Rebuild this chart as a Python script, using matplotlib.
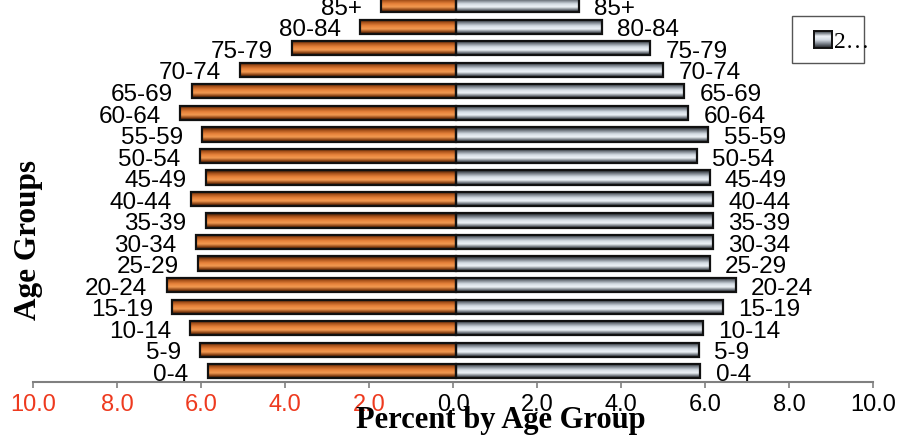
'''
Population pyramid: percent of population by age group
'''

import numpy as np
import matplotlib
matplotlib.use('Agg')
import matplotlib.pyplot as plt
from matplotlib.colors import LinearSegmentedColormap
from matplotlib.patches import Rectangle

age_groups = ['0-4', '5-9', '10-14', '15-19', '20-24', '25-29', '30-34', '35-39',
              '40-44', '45-49', '50-54', '55-59', '60-64', '65-69', '70-74',
              '75-79', '80-84', '85+']
left_pct = [5.90, 6.08, 6.32, 6.74, 6.88, 6.14, 6.19, 5.95, 6.30, 5.95, 6.09,
            6.03, 6.55, 6.27, 5.12, 3.89, 2.28, 1.78]
right_pct = [5.89, 5.86, 5.95, 6.42, 6.73, 6.11, 6.19, 6.19, 6.19, 6.11, 5.81,
             6.08, 5.60, 5.50, 5.00, 4.69, 3.54, 3.00]
tick_values = [-10, -8, -6, -4, -2, 0, 2, 4, 6, 8, 10]
tick_labels = ['10.0', '8.0', '6.0', '4.0', '2.0', '0.0', '2.0', '4.0', '6.0', '8.0', '10.0']
legend_label = '2\u2026'

# shading across the bar height, top to bottom
orange_cmap = LinearSegmentedColormap.from_list('orange', [
    (0.0, '#2a1204'), (0.14, '#8a4214'), (0.34, '#f29a52'), (0.55, '#e7823a'),
    (0.78, '#a9521a'), (1.0, '#2a1204')])
grey_cmap = LinearSegmentedColormap.from_list('grey', [
    (0.0, '#1c1f22'), (0.14, '#6c737b'), (0.34, '#eef3f8'), (0.55, '#d3dbe3'),
    (0.78, '#747b84'), (1.0, '#1c1f22')])
shade = np.linspace(0, 1, 64).reshape(-1, 1)

fig = plt.figure(figsize=(9, 4.39), dpi=100)
ax = fig.add_axes([33/900, 56/439, 840/900, 387.5/439])

y = np.arange(len(age_groups))
bar_h = 0.66
gap = 0.06

left_bars = ax.barh(y, [-v for v in left_pct], left=gap, height=bar_h,
                    facecolor='none', edgecolor='#111111', linewidth=1.6, zorder=3)
right_bars = ax.barh(y, [v - gap for v in right_pct], left=gap, height=bar_h,
                     facecolor='none', edgecolor='#111111', linewidth=1.6, zorder=3)

for bars, cmap in ((left_bars, orange_cmap), (right_bars, grey_cmap)):
    for p in bars.patches:
        x0, x1 = sorted([p.get_x(), p.get_x() + p.get_width()])
        y0 = p.get_y()
        ax.imshow(shade, cmap=cmap, extent=[x0, x1, y0 + p.get_height(), y0],
                  aspect='auto', interpolation='bilinear', origin='upper', zorder=2)

# age labels at the end of each bar
for i, g in enumerate(age_groups):
    ax.annotate(g, xy=(-left_pct[i], y[i]), xytext=(-12, -6.2),
                textcoords='offset points', ha='right', va='baseline',
                fontsize=17.5, family='Liberation Sans', color='black')
    ax.annotate(g, xy=(right_pct[i], y[i]), xytext=(11, -6.2),
                textcoords='offset points', ha='left', va='baseline',
                fontsize=17.5, family='Liberation Sans', color='black')

ax.set_xlim(-10, 10)
ax.set_ylim(-0.5, len(age_groups) - 0.5)
ax.set_xticks(tick_values)
ax.set_xticklabels(tick_labels, fontsize=17, family='Liberation Sans')
for val, lab in zip(tick_values, ax.get_xticklabels()):
    lab.set_color('#ee3a1f' if val < 0 else 'black')
ax.tick_params(axis='x', direction='out', length=4, width=1.2, color='#808080', pad=4)
ax.set_yticks([])
for side in ['top', 'left', 'right']:
    ax.spines[side].set_visible(False)
ax.spines['bottom'].set_color('#808080')
ax.spines['bottom'].set_linewidth(1.5)
ax.patch.set_alpha(0)

fig.text(501/900, 1 - 428/439, 'Percent by Age Group', ha='center', va='baseline',
         fontsize=22, fontweight='bold', family='Liberation Serif')
fig.text(29/900, 1 - 240/439, 'Age Groups', ha='center', va='center', rotation=90,
         fontsize=22.5, fontweight='bold', family='Liberation Serif')

# legend box with a single entry
fig.patches.append(Rectangle((792/900, 1 - 63.5/439), 71.5/900, 46.5/439,
                             transform=fig.transFigure, facecolor='white',
                             edgecolor='#555555', linewidth=1.0, zorder=1))
kax = fig.add_axes([814/900, 1 - 49/439, 17.5/900, 17.5/439])
kax.set_zorder(5)
kax.imshow(shade, cmap=grey_cmap, aspect='auto', interpolation='bilinear')
kax.set_xticks([])
kax.set_yticks([])
for s in kax.spines.values():
    s.set_color('#111111')
    s.set_linewidth(1.4)
fig.text(834/900, 1 - 48/439, legend_label, ha='left', va='baseline',
         fontsize=17, family='Liberation Serif', zorder=6)

fig.savefig('out.png', dpi=100)
